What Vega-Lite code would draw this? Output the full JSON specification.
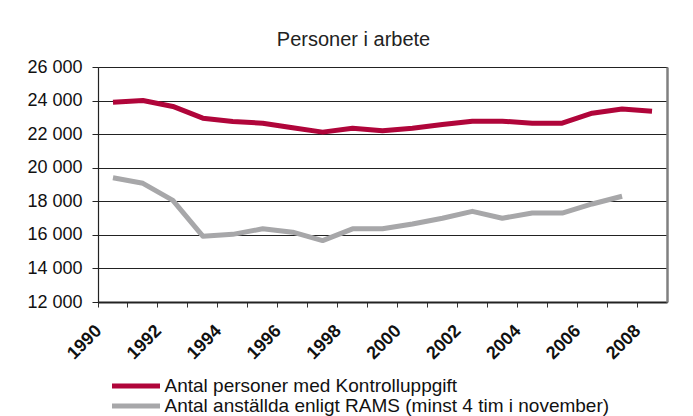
{
  "$schema": "https://vega.github.io/schema/vega-lite/v6.json",
  "width": 569,
  "height": 235,
  "autosize": {"type": "none"},
  "padding": {"left": 98, "top": 67, "right": 26, "bottom": 114},
  "background": "white",
  "title": {"text": "Personer i arbete", "fontSize": 20, "font": "Liberation Sans", "fontWeight": "normal", "color": "#222", "anchor": "middle", "offset": 8, "dx": -29},
  "data": {"values": [
    {"year": 1990, "series": "Antal personer med Kontrolluppgift", "value": 23900},
    {"year": 1991, "series": "Antal personer med Kontrolluppgift", "value": 24000},
    {"year": 1992, "series": "Antal personer med Kontrolluppgift", "value": 23650},
    {"year": 1993, "series": "Antal personer med Kontrolluppgift", "value": 22950},
    {"year": 1994, "series": "Antal personer med Kontrolluppgift", "value": 22750},
    {"year": 1995, "series": "Antal personer med Kontrolluppgift", "value": 22650},
    {"year": 1996, "series": "Antal personer med Kontrolluppgift", "value": 22380},
    {"year": 1997, "series": "Antal personer med Kontrolluppgift", "value": 22120},
    {"year": 1998, "series": "Antal personer med Kontrolluppgift", "value": 22350},
    {"year": 1999, "series": "Antal personer med Kontrolluppgift", "value": 22200},
    {"year": 2000, "series": "Antal personer med Kontrolluppgift", "value": 22350},
    {"year": 2001, "series": "Antal personer med Kontrolluppgift", "value": 22570},
    {"year": 2002, "series": "Antal personer med Kontrolluppgift", "value": 22770},
    {"year": 2003, "series": "Antal personer med Kontrolluppgift", "value": 22770},
    {"year": 2004, "series": "Antal personer med Kontrolluppgift", "value": 22650},
    {"year": 2005, "series": "Antal personer med Kontrolluppgift", "value": 22650},
    {"year": 2006, "series": "Antal personer med Kontrolluppgift", "value": 23250},
    {"year": 2007, "series": "Antal personer med Kontrolluppgift", "value": 23500},
    {"year": 2008, "series": "Antal personer med Kontrolluppgift", "value": 23370},
    {"year": 1990, "series": "Antal anställda enligt RAMS (minst 4 tim i november)", "value": 19400},
    {"year": 1991, "series": "Antal anställda enligt RAMS (minst 4 tim i november)", "value": 19070},
    {"year": 1992, "series": "Antal anställda enligt RAMS (minst 4 tim i november)", "value": 18050},
    {"year": 1993, "series": "Antal anställda enligt RAMS (minst 4 tim i november)", "value": 15920},
    {"year": 1994, "series": "Antal anställda enligt RAMS (minst 4 tim i november)", "value": 16030},
    {"year": 1995, "series": "Antal anställda enligt RAMS (minst 4 tim i november)", "value": 16360},
    {"year": 1996, "series": "Antal anställda enligt RAMS (minst 4 tim i november)", "value": 16160},
    {"year": 1997, "series": "Antal anställda enligt RAMS (minst 4 tim i november)", "value": 15660},
    {"year": 1998, "series": "Antal anställda enligt RAMS (minst 4 tim i november)", "value": 16360},
    {"year": 1999, "series": "Antal anställda enligt RAMS (minst 4 tim i november)", "value": 16360},
    {"year": 2000, "series": "Antal anställda enligt RAMS (minst 4 tim i november)", "value": 16650},
    {"year": 2001, "series": "Antal anställda enligt RAMS (minst 4 tim i november)", "value": 16990},
    {"year": 2002, "series": "Antal anställda enligt RAMS (minst 4 tim i november)", "value": 17400},
    {"year": 2003, "series": "Antal anställda enligt RAMS (minst 4 tim i november)", "value": 16990},
    {"year": 2004, "series": "Antal anställda enligt RAMS (minst 4 tim i november)", "value": 17300},
    {"year": 2005, "series": "Antal anställda enligt RAMS (minst 4 tim i november)", "value": 17300},
    {"year": 2006, "series": "Antal anställda enligt RAMS (minst 4 tim i november)", "value": 17840},
    {"year": 2007, "series": "Antal anställda enligt RAMS (minst 4 tim i november)", "value": 18300}
  ]},
  "layer": [
    {
      "mark": {"type": "line", "strokeWidth": 5, "strokeJoin": "round", "strokeCap": "butt"},
      "encoding": {
        "x": {
          "field": "year", "type": "ordinal", "bandPosition": 0.5,
          "scale": {"type": "band", "paddingInner": 0, "paddingOuter": 0},
          "axis": {
            "title": null, "bandPosition": 0, "labelAngle": -45, "labelAlign": "right", "labelBaseline": "middle",
            "labelExpr": "datum.value % 2 == 0 ? datum.label : ''",
            "labelFont": "Liberation Sans", "labelFontWeight": "bold", "labelFontSize": 18, "labelColor": "#111",
            "labelPadding": 21, "labelOffset": -14, "tickSize": 5, "tickColor": "#333", "domainColor": "#222", "domainWidth": 2, "grid": false
          }
        },
        "y": {
          "field": "value", "type": "quantitative",
          "scale": {"domain": [12000, 26000], "nice": false, "zero": false},
          "axis": {
            "title": null, "values": [12000, 14000, 16000, 18000, 20000, 22000, 24000, 26000],
            "labelExpr": "replace(format(datum.value, ','), ',', ' ')",
            "labelFont": "Liberation Sans", "labelFontSize": 18, "labelColor": "#111", "labelPadding": 10,
            "tickSize": 6, "tickColor": "#222", "domainColor": "#222", "domainWidth": 1.2,
            "grid": true, "gridColor": "#222", "gridWidth": 1
          }
        },
        "color": {
          "field": "series", "type": "nominal", "sort": null,
          "scale": {"domain": ["Antal personer med Kontrolluppgift", "Antal anställda enligt RAMS (minst 4 tim i november)"], "range": ["#B0053A", "#A7A7A9"]},
          "legend": {
            "orient": "none", "legendX": 47.5, "legendY": 309.5, "title": null, "padding": 0,
            "symbolType": "M-8.6,0H1", "symbolSize": 100, "symbolStrokeWidth": 5,
            "labelFont": "Liberation Sans", "labelFontSize": 19, "labelColor": "#111", "labelOffset": 0, "labelLimit": 600, "rowPadding": -1.5
          }
        }
      }
    },
    {
      "mark": {"type": "line", "opacity": 0},
      "encoding": {
        "x": {"field": "year", "type": "ordinal", "bandPosition": 0.5},
        "y": {
          "field": "value", "type": "quantitative",
          "scale": {"domain": [12000, 26000], "nice": false, "zero": false},
          "axis": {"orient": "right", "title": null, "labels": false, "ticks": false, "grid": false, "domainColor": "#808080", "domainWidth": 2.5}
        }
      }
    }
  ],
  "resolve": {"axis": {"y": "independent"}},
  "config": {
    "view": {"stroke": "#777", "strokeWidth": 1},
    "font": "Liberation Sans"
  }
}
